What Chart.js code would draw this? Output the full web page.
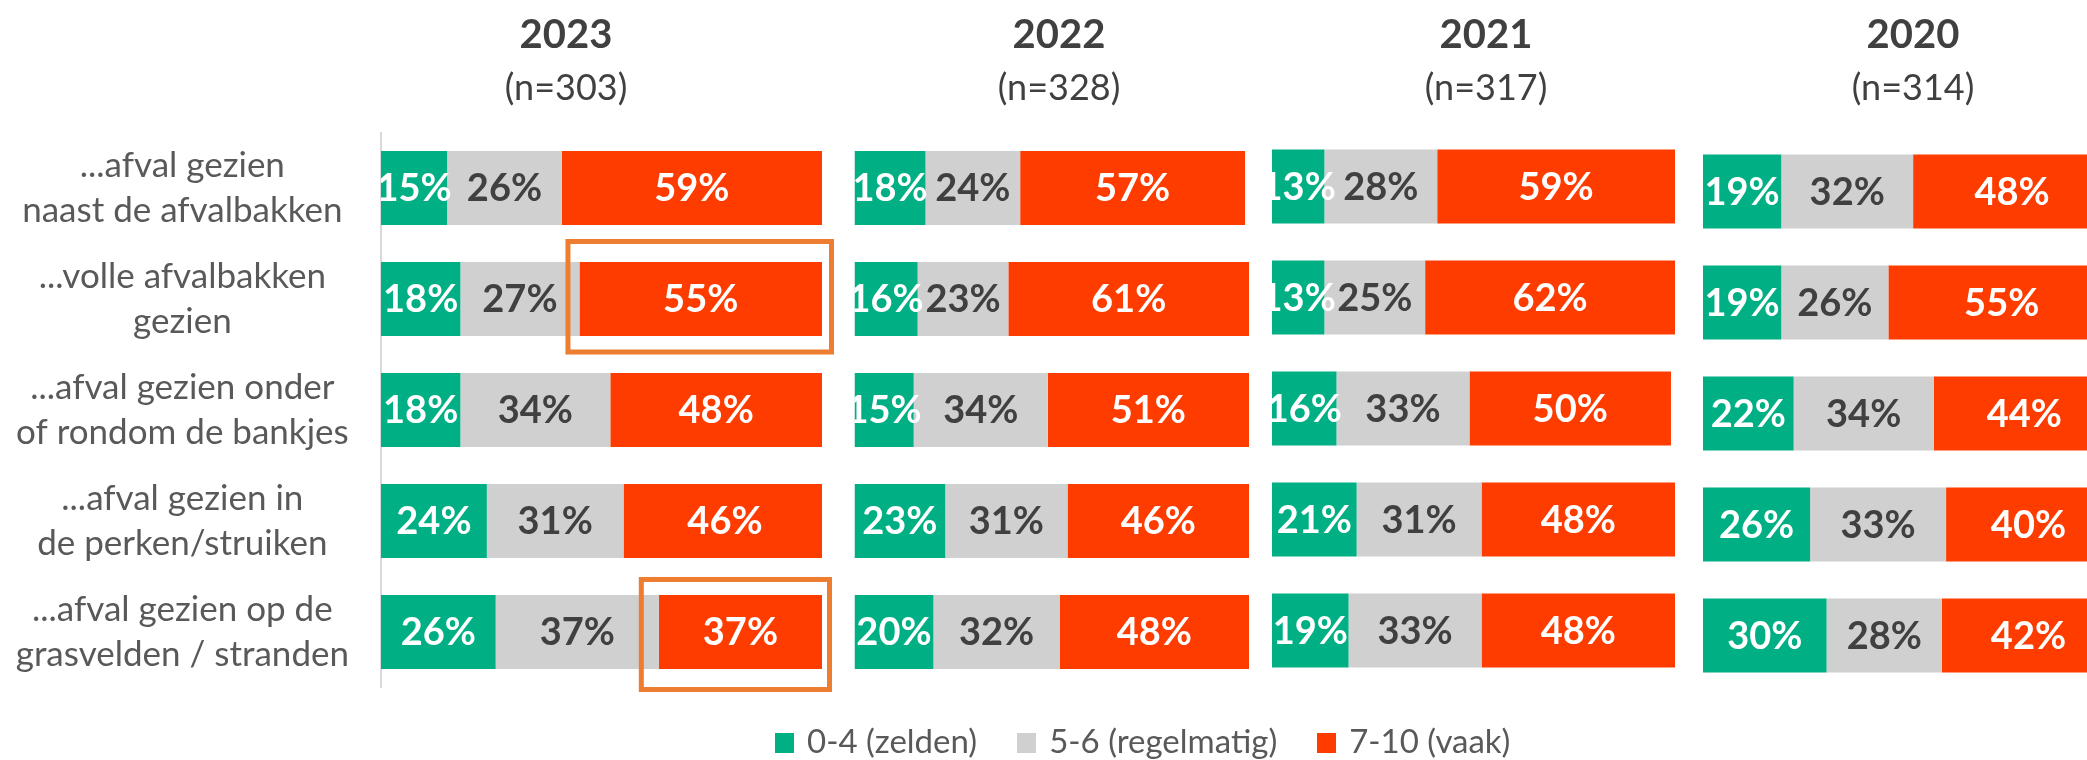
<!DOCTYPE html>
<html>
<head>
<meta charset="utf-8">
<script src="https://cdn.jsdelivr.net/npm/chart.js@4.4.1/dist/chart.umd.min.js"></script>
<style>
  html, body { margin: 0; padding: 0; background: #fff; overflow: hidden; }
  body { width: 2087px; height: 760px; position: relative; font-family: Lato, sans-serif; }
  .panel { position: absolute; top: 0; height: 760px; }
  .year { position: absolute; transform: translateX(-50%); color: #404040; white-space: nowrap; }
  .year-title { top: 13px; font-size: 40px; line-height: 40px; font-weight: 700; }
  .year-n { top: 68px; font-size: 36px; line-height: 36px; }
  .legend { position: absolute; left: 775px; top: 722px; display: flex; align-items: flex-start;
            font-size: 33px; line-height: 36px; color: #595959; white-space: nowrap; }
  .legend-item { display: flex; align-items: flex-start; margin-right: 40px; }
  .legend-box { width: 19px; height: 20px; margin-top: 11px; margin-right: 13px; }
</style>
</head>
<body>
<div id="panels"></div>
<div class="legend" id="legend"></div>
<script>
const categories = [
  ['...afval gezien', 'naast de afvalbakken'],
  ['...volle afvalbakken', 'gezien'],
  ['...afval gezien onder', 'of rondom de bankjes'],
  ['...afval gezien in', 'de perken/struiken'],
  ['...afval gezien op de', 'grasvelden / stranden']
];
const seriesNames = ['0-4 (zelden)', '5-6 (regelmatig)', '7-10 (vaak)'];
const years = ['2023', '2022', '2021', '2020'];
const sampleSizes = ['(n=303)', '(n=328)', '(n=317)', '(n=314)'];

const zelden2023 = [15, 18, 18, 24, 26];
const regelmatig2023 = [26, 27, 34, 31, 37];
const vaak2023 = [59, 55, 48, 46, 37];

const zelden2022 = [18, 16, 15, 23, 20];
const regelmatig2022 = [24, 23, 34, 31, 32];
const vaak2022 = [57, 61, 51, 46, 48];

const zelden2021 = [13, 13, 16, 21, 19];
const regelmatig2021 = [28, 25, 33, 31, 33];
const vaak2021 = [59, 62, 50, 48, 48];

const zelden2020 = [19, 19, 22, 26, 30];
const regelmatig2020 = [32, 26, 34, 33, 28];
const vaak2020 = [48, 55, 44, 40, 42];

const seriesColors = ['#00B084', '#D0D0D0', '#FF3C00'];
const labelColors = ['#FFFFFF', '#404040', '#FFFFFF'];

const yearData = [
  [zelden2023, regelmatig2023, vaak2023],
  [zelden2022, regelmatig2022, vaak2022],
  [zelden2021, regelmatig2021, vaak2021],
  [zelden2020, regelmatig2020, vaak2020]
];

// where each panel sits on the page and how its plot area is padded
const panelBoxes = [
  { left: 0,    width: 850, padding: { left: 0,   right: 28, top: 132.5, bottom: 72.5 }, titleX: 566 },
  { left: 850,  width: 410, padding: { left: 4.5, right: 11, top: 132.5, bottom: 72.5 }, titleX: 1059 },
  { left: 1260, width: 425, padding: { left: 12,  right: 10, top: 131,   bottom: 74 },   titleX: 1486 },
  { left: 1685, width: 440, padding: { left: 18,  right: 10, top: 136,   bottom: 69 },   titleX: 1913 }
];

Chart.defaults.font.family = 'Lato, sans-serif';

// percentage labels centred in each segment
const valueLabels = {
  id: 'valueLabels',
  afterDatasetsDraw(chart) {
    const { ctx, chartArea } = chart;
    ctx.save();
    ctx.beginPath();
    ctx.rect(chartArea.left, chartArea.top, chartArea.right - chartArea.left, chartArea.bottom - chartArea.top);
    ctx.clip();
    ctx.font = 'bold 38px Lato, sans-serif';
    ctx.textAlign = 'center';
    ctx.textBaseline = 'middle';
    chart.data.datasets.forEach((ds, di) => {
      chart.getDatasetMeta(di).data.forEach((bar, i) => {
        const { x, y, base } = bar.getProps(['x', 'y', 'base'], true);
        ctx.fillStyle = labelColors[di];
        ctx.fillText(ds.data[i] + '%', (x + base) / 2, y + 1);
      });
    });
    ctx.restore();
  }
};

// orange frames round the highlighted bars
const highlightBoxes = {
  id: 'highlightBoxes',
  afterDraw(chart, args, opts) {
    if (!opts.boxes || !opts.boxes.length) return;
    const ctx = chart.ctx;
    const meta = chart.getDatasetMeta(opts.dataset);
    ctx.save();
    ctx.strokeStyle = opts.color;
    ctx.lineWidth = opts.lineWidth;
    opts.boxes.forEach(b => {
      const { x, y, base, height } = meta.data[b.row].getProps(['x', 'y', 'base', 'height'], true);
      const [t, r, btm, l] = b.pad;
      ctx.strokeRect(base - l, y - height / 2 - t, (x - base) + l + r, height + t + btm);
    });
    ctx.restore();
  }
};

function buildPanel(idx) {
  const box = panelBoxes[idx];
  const wrap = document.createElement('div');
  wrap.className = 'panel';
  wrap.style.left = box.left + 'px';
  wrap.style.width = box.width + 'px';
  wrap.innerHTML = '<canvas></canvas>';
  document.getElementById('panels').appendChild(wrap);

  const title = document.createElement('div');
  title.className = 'year year-title';
  title.style.left = box.titleX + 'px';
  title.textContent = years[idx];
  document.body.appendChild(title);

  const sub = document.createElement('div');
  sub.className = 'year year-n';
  sub.style.left = box.titleX + 'px';
  sub.textContent = sampleSizes[idx];
  document.body.appendChild(sub);

  const first = idx === 0;

  return new Chart(wrap.querySelector('canvas'), {
    type: 'bar',
    data: {
      labels: categories,
      datasets: yearData[idx].map((values, si) => ({
        label: seriesNames[si],
        data: values,
        backgroundColor: seriesColors[si],
        borderWidth: 0,
        barPercentage: 0.667,
        categoryPercentage: 1,
        clip: 0
      }))
    },
    options: {
      indexAxis: 'y',
      responsive: true,
      maintainAspectRatio: false,
      animation: false,
      layout: { padding: box.padding },
      plugins: {
        legend: { display: false },
        tooltip: { enabled: false },
        highlightBoxes: first
          ? { dataset: 2, color: '#ED7D31', lineWidth: 5,
              boxes: [{ row: 1, pad: [20.5, 9.5, 16, 11.5] }, { row: 4, pad: [15.5, 7.5, 20.5, 17.5] }] }
          : { boxes: [] }
      },
      scales: {
        x: { stacked: true, min: 0, max: 100, display: false },
        y: {
          stacked: true,
          display: first,
          grid: { display: false },
          border: { display: true, color: '#D9D9D9', width: 2 },
          ticks: {
            color: '#595959',
            crossAlign: 'center',
            padding: 24,
            font: { size: 35, lineHeight: 1.3 }
          },
          afterFit: s => { if (first) s.width = 381; }
        }
      }
    },
    plugins: [valueLabels, highlightBoxes]
  });
}

years.forEach((y, i) => buildPanel(i));

document.getElementById('legend').innerHTML = seriesNames.map((name, i) => `
  <div class="legend-item">
    <div class="legend-box" style="background:${seriesColors[i]}"></div>
    <div>${name}</div>
  </div>
`).join('');
</script>
</body>
</html>
